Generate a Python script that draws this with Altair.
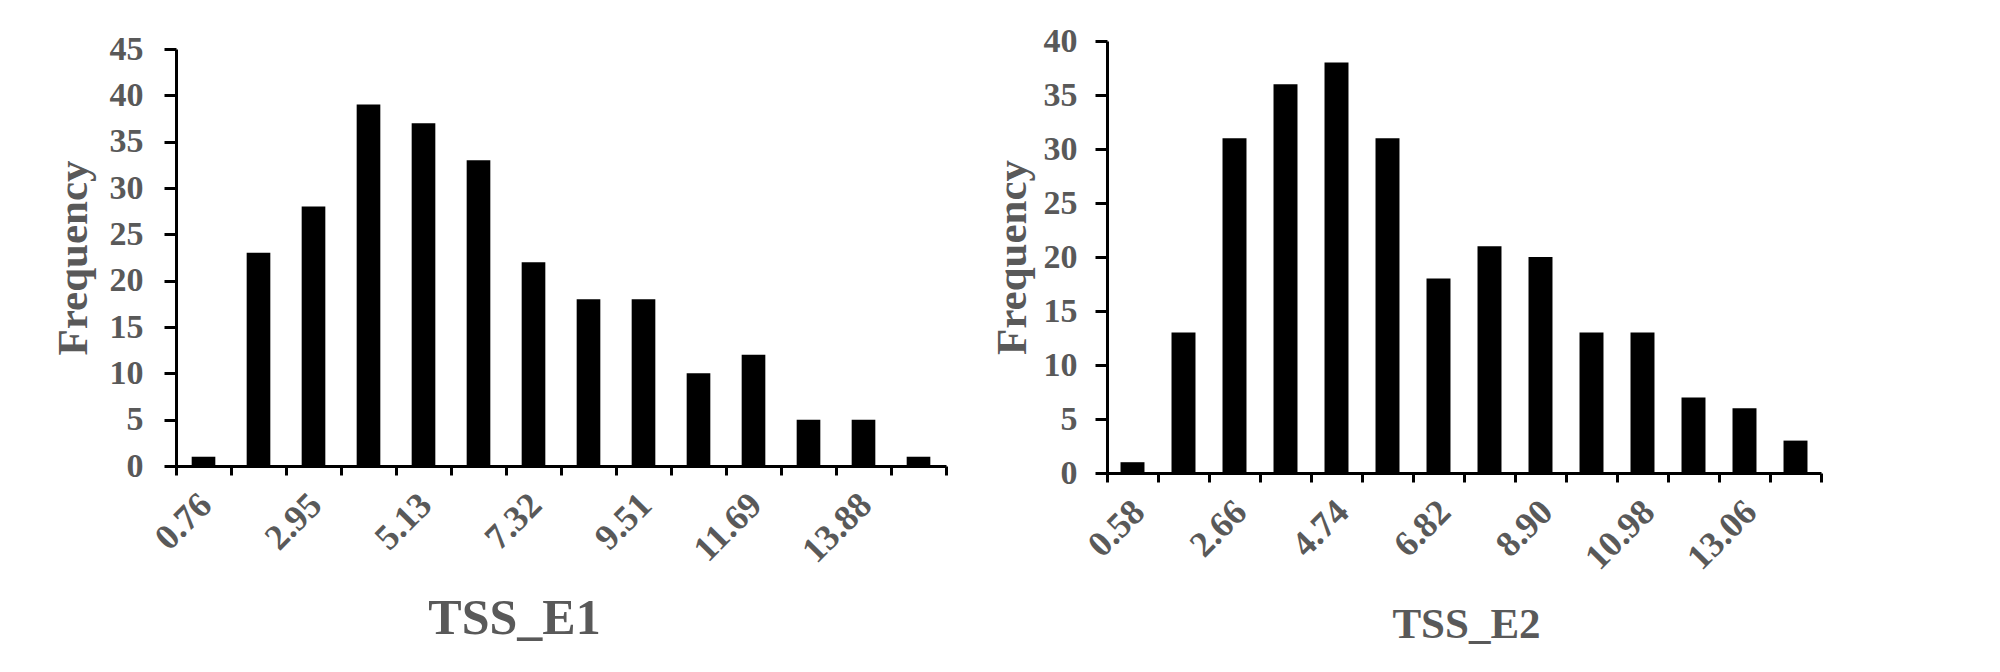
import altair as alt
import pandas as pd

# ---- data ----
E1_BINS = ["0.76", "1.85", "2.95", "4.04", "5.13", "6.22", "7.32",
           "8.41", "9.51", "10.60", "11.69", "12.78", "13.88", "14.97"]
E1_SHOWN = ["0.76", "2.95", "5.13", "7.32", "9.51", "11.69", "13.88"]
E1_FREQ = [1, 23, 28, 39, 37, 33, 22, 18, 18, 10, 12, 5, 5, 1]

E2_BINS = ["0.58", "1.62", "2.66", "3.70", "4.74", "5.78", "6.82",
           "7.86", "8.90", "9.94", "10.98", "12.02", "13.06", "14.10"]
E2_SHOWN = ["0.58", "2.66", "4.74", "6.82", "8.90", "10.98", "13.06"]
E2_FREQ = [1, 13, 31, 36, 38, 31, 18, 21, 20, 13, 13, 7, 6, 3]

FONT = "Liberation Serif"
GREY = "#595959"


def panel(bins, shown, freq, ymax, width, height, top_gap, bar_frac, title,
          title_size, title_x, title_y, label_offset, label_pad,
          ytitle_x, ylabel_pad):
    df = pd.DataFrame({"bin": bins, "freq": freq})
    label_expr = ("indexof([" + ",".join("'%s'" % s for s in shown) +
                  "], datum.value) >= 0 ? datum.value : ''")
    x = alt.X(
        "bin:N", sort=bins,
        scale=alt.Scale(paddingInner=0, paddingOuter=0),
        axis=alt.Axis(
            title=title, tickBand="extent", labelExpr=label_expr,
            labelAngle=-45, labelAlign="right", labelBaseline="top",
            labelOffset=label_offset, labelPadding=label_pad,
            labelFont=FONT, labelFontSize=36, labelFontWeight="bold",
            labelColor=GREY, labelOverlap=False, labelBound=False,
            tickSize=9, tickWidth=3, tickColor="black",
            domainColor="black", domainWidth=3,
            titleFont=FONT, titleFontSize=title_size, titleFontWeight="bold",
            titleColor=GREY, titleX=title_x, titleY=title_y,
            titleBaseline="alphabetic", titleAlign="center",
        ),
    )
    y = alt.Y(
        "freq:Q",
        scale=alt.Scale(domain=[0, ymax], nice=False, zero=True,
                        range=[height, top_gap]),
        axis=alt.Axis(
            title="Frequency", values=list(range(0, ymax + 1, 5)), grid=False,
            tickSize=12, tickWidth=3, tickColor="black",
            domainColor="black", domainWidth=3,
            labelFont=FONT, labelFontSize=34, labelFontWeight="bold",
            labelColor=GREY, labelPadding=ylabel_pad,
            titleFont=FONT, titleFontSize=43, titleFontWeight="bold",
            titleColor=GREY, titleAngle=-90, titleBaseline="middle",
            titleAlign="center", titleX=ytitle_x,
            titleY=(height + top_gap) / 2,
        ),
    )
    return alt.Chart(df).mark_bar(
        color="black", width=alt.RelativeBandSize(bar_frac)
    ).encode(x=x, y=y).properties(width=width, height=height)


left = panel(E1_BINS, E1_SHOWN, E1_FREQ, 45, 770, 425, 8, 0.43, "TSS_E1",
             50, 338, 167, -10, 12, -103, 21)
right = panel(E2_BINS, E2_SHOWN, E2_FREQ, 40, 714, 432, 0, 0.47, "TSS_E2",
              43, 359, 164, -6, 12, -95, 18)

chart = alt.hconcat(left, right, spacing=43).properties(
    padding={"left": 44, "top": 16, "right": 5, "bottom": 5}
).configure_view(stroke=None)

chart.save("out.html", embed_options={"renderer": "svg", "actions": False})
